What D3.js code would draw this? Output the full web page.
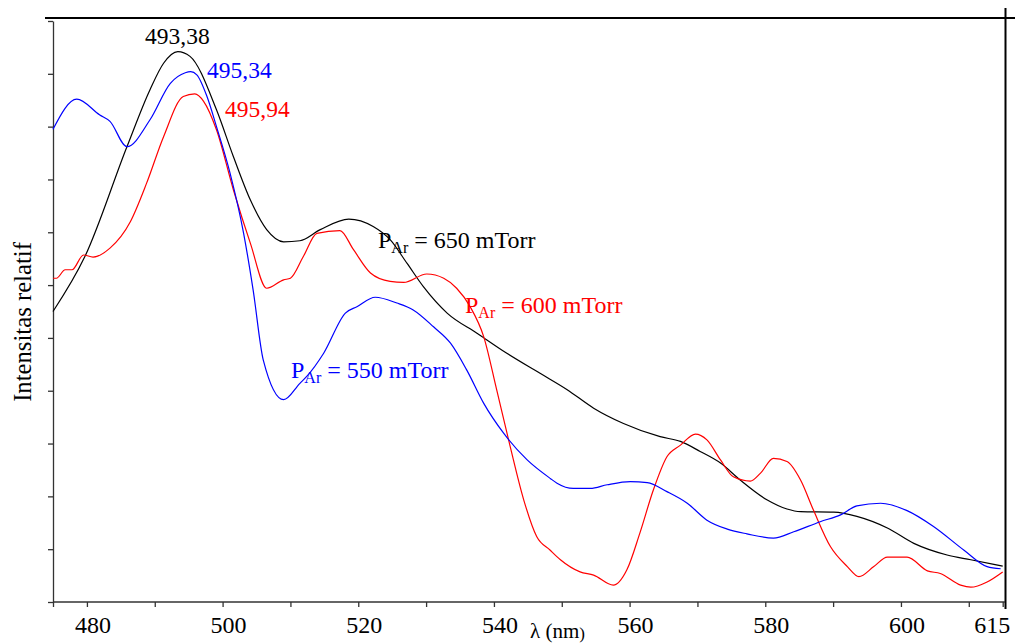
<!DOCTYPE html>
<html>
<head>
<meta charset="utf-8">
<script src="https://cdn.jsdelivr.net/npm/d3@7"></script>
<style>
  html, body { margin: 0; padding: 0; background: #fff; }
  svg { display: block; font-family: "Liberation Serif", "Times New Roman", serif; }
</style>
</head>
<body>
<svg id="chart" width="1015" height="644"></svg>
<script>
// ---- data (wavelength in nm, relative intensity in arbitrary units) ----
const lambda650 = [475.0, 479.7, 485.9, 489.3, 491.3, 493.4, 495.2, 499.1, 501.6, 504.1, 506.5, 509.0, 511.4, 514.4, 518.6, 522.2, 524.7, 527.2, 529.6, 533.1, 537.5, 541.9, 546.8, 550.8, 554.7, 559.1, 564.5, 567.5, 570.4, 573.4, 576.3, 580.3, 583.2, 585.2, 590.1, 593.5, 598.0, 601.9, 606.8, 610.3, 615.0];
const values650 = [55.0, 65.4, 86.2, 97.0, 102.0, 104.2, 103.3, 93.2, 84.3, 76.1, 70.5, 68.2, 68.4, 70.5, 72.5, 71.1, 68.6, 64.1, 59.7, 54.7, 50.9, 47.1, 43.3, 40.2, 36.7, 33.8, 31.3, 30.4, 28.5, 26.3, 23.1, 19.3, 17.6, 17.1, 17.0, 16.2, 14.0, 11.1, 8.9, 8.0, 6.8];

const lambda550 = [475.0, 478.5, 481.9, 483.4, 485.9, 489.3, 492.3, 494.5, 495.3, 496.2, 497.7, 499.1, 501.1, 503.1, 504.5, 506.0, 509.0, 511.4, 512.4, 514.9, 518.1, 519.8, 522.5, 525.7, 528.1, 531.1, 533.6, 536.0, 538.5, 541.4, 544.9, 548.3, 549.3, 551.7, 554.2, 556.7, 560.1, 562.6, 565.5, 568.5, 571.4, 574.4, 577.3, 581.2, 584.2, 588.1, 591.1, 593.5, 597.0, 600.9, 604.8, 609.3, 612.7, 614.7];
const values550 = [89.5, 95.2, 92.2, 91.0, 86.2, 91.3, 98.2, 100.2, 100.4, 99.8, 95.7, 90.0, 81.2, 69.8, 59.1, 45.8, 38.3, 41.4, 42.7, 47.1, 54.7, 55.9, 57.7, 56.6, 55.3, 52.1, 49.0, 43.9, 37.6, 32.0, 26.9, 23.4, 22.5, 21.5, 21.5, 22.2, 22.8, 22.6, 20.9, 18.7, 15.5, 13.8, 12.9, 12.1, 13.3, 15.2, 16.5, 18.2, 18.7, 17.3, 14.3, 9.8, 6.7, 6.3];

const lambda600 = [475.0, 475.5, 476.8, 477.8, 479.5, 480.9, 483.4, 486.4, 488.8, 491.3, 494.2, 495.9, 497.2, 499.1, 501.6, 504.1, 506.5, 509.0, 510.0, 511.9, 513.9, 517.3, 519.3, 521.8, 524.7, 526.7, 530.1, 532.6, 534.5, 536.5, 538.5, 540.4, 542.4, 544.4, 546.3, 548.3, 549.8, 552.7, 554.7, 557.6, 559.6, 561.5, 563.5, 565.5, 567.5, 569.7, 571.4, 573.4, 575.3, 577.8, 579.3, 581.2, 583.2, 585.2, 587.1, 589.6, 592.1, 593.8, 596.0, 598.0, 600.9, 603.9, 605.8, 608.8, 610.3, 612.7, 615.0];
const values600 = [61.3, 61.3, 62.9, 62.9, 65.7, 65.3, 67.0, 72.0, 79.3, 88.1, 95.7, 96.2, 94.8, 89.4, 78.0, 67.9, 59.4, 61.0, 61.3, 65.4, 69.8, 70.3, 66.7, 62.3, 60.7, 60.5, 62.1, 61.3, 59.4, 55.9, 50.2, 40.2, 29.4, 19.3, 12.4, 9.8, 8.0, 5.7, 5.1, 3.2, 6.1, 13.0, 21.2, 27.5, 29.7, 31.8, 30.7, 26.9, 23.7, 22.9, 24.4, 27.2, 26.6, 23.1, 17.4, 10.5, 6.7, 4.8, 6.7, 8.5, 8.5, 5.9, 5.4, 3.2, 2.8, 3.8, 5.7];

const peakLabels = ["493,38", "495,34", "495,94"];
const xTickValues = [480, 490, 500, 510, 520, 530, 540, 550, 560, 570, 580, 590, 600, 610, 615];
const xTickLabels = ["480", "", "500", "", "520", "", "540", "", "560", "", "580", "", "600", "", "615"];
const yTickValues = [0, 10, 20, 30, 40, 50, 60, 70, 80, 90, 100, 110];

// ---- drawing ----
const svg = d3.select("#chart");
const x = d3.scaleLinear().domain([475, 615]).range([53, 1002.7]);
const y = d3.scaleLinear().domain([0, 110]).range([602, 21]);

// frame lines (top and right)
svg.append("line").attr("x1", 45).attr("x2", 1015).attr("y1", 18).attr("y2", 18)
  .attr("stroke", "#000").attr("stroke-width", 2);
svg.append("line").attr("x1", 1005.5).attr("x2", 1005.5).attr("y1", 8).attr("y2", 609)
  .attr("stroke", "#000").attr("stroke-width", 2);

// left axis
const yAxis = svg.append("g").attr("transform", "translate(53,0)")
  .call(d3.axisLeft(y).tickValues(yTickValues).tickFormat("").tickSize(5).tickSizeOuter(0));
yAxis.selectAll("path,line").attr("stroke", "#333").attr("stroke-width", 1.3);

// bottom axis
const xAxis = svg.append("g").attr("transform", "translate(0,602)")
  .call(d3.axisBottom(x).tickValues([475].concat(xTickValues))
    .tickFormat((d) => { const i = xTickValues.indexOf(d); return i < 0 ? "" : xTickLabels[i]; })
    .tickSize(5).tickSizeOuter(0));
xAxis.select(".domain").attr("d", "M53,0H1005");
xAxis.selectAll("path,line").attr("stroke", "#333").attr("stroke-width", 1.3);
xAxis.selectAll("text")
  .attr("font-family", "Liberation Serif, Times New Roman, serif")
  .attr("font-size", 24).attr("fill", "#000")
  .attr("y", 0).attr("dy", 31)
  .attr("dx", (d) => d === 615 ? -11 : 5.5);

// axis titles
svg.append("text").attr("transform", "translate(31,322) rotate(-90)")
  .attr("text-anchor", "middle").attr("font-size", 24.7).attr("fill", "#000")
  .text("Intensitas relatif");
const xt = svg.append("text").attr("x", 530).attr("y", 638).attr("font-size", 21).attr("fill", "#000");
xt.append("tspan").text("λ (nm");
xt.append("tspan").attr("font-size", 17).attr("dy", 1).text(")");

// curves
const line = d3.line().x((d) => x(d[0])).y((d) => y(d[1])).curve(d3.curveMonotoneX);
const series = [
  { lam: lambda650, val: values650, color: "#000000" },
  { lam: lambda600, val: values600, color: "#ff0000" },
  { lam: lambda550, val: values550, color: "#0000ff" }
];
series.forEach((s) => {
  svg.append("path").datum(s.lam.map((l, i) => [l, s.val[i]]))
    .attr("fill", "none").attr("stroke", s.color).attr("stroke-width", 1.2)
    .attr("d", line);
});

// peak labels
const peakPos = [[145, 44, "#000000"], [207, 78, "#0000ff"], [225, 117, "#ff0000"]];
peakLabels.forEach((t, i) => {
  svg.append("text").attr("x", peakPos[i][0]).attr("y", peakPos[i][1])
    .attr("font-size", 23.5).attr("fill", peakPos[i][2]).text(t);
});

// pressure labels
function pressureLabel(px, py, color, txt) {
  const t = svg.append("text").attr("x", px).attr("y", py).attr("font-size", 24).attr("fill", color);
  t.append("tspan").text("P");
  t.append("tspan").attr("font-size", 16).attr("dy", 5).text("Ar");
  t.append("tspan").attr("dy", -5).text(" = " + txt + " mTorr");
}
pressureLabel(378, 248, "#000000", "650");
pressureLabel(465, 313, "#ff0000", "600");
pressureLabel(291, 378, "#0000ff", "550");
</script>
</body>
</html>
